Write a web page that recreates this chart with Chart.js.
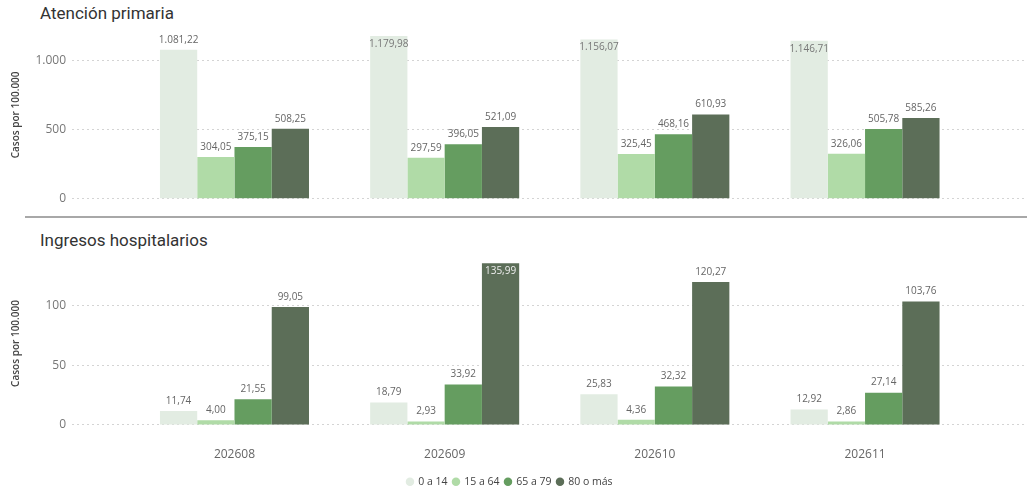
<!DOCTYPE html>
<html>
<head>
<meta charset="utf-8">
<script src="https://cdn.jsdelivr.net/npm/chart.js@4/dist/chart.umd.min.js"></script>
<style>
  html,body{margin:0;padding:0;background:#fff;width:1027px;height:493px;overflow:hidden;}
  .title{position:absolute;left:40px;font-family:"Roboto","DejaVu Sans",sans-serif;font-size:17px;color:#333;}
  #sep{position:absolute;left:25px;top:216px;width:1002px;height:2px;background:#a8a8a8;}
  #c1wrap{position:absolute;left:0;top:0;width:1027px;height:212px;}
  #c2wrap{position:absolute;left:0;top:224px;width:1027px;height:273px;}
</style>
</head>
<body>
<div class="title" style="top:3px;">Atención primaria</div>
<div id="sep"></div>
<div class="title" style="top:230px;">Ingresos hospitalarios</div>
<div id="c1wrap"><canvas id="c1"></canvas></div>
<div id="c2wrap"><canvas id="c2"></canvas></div>
<script>
// ---- data ----
const categories = ["202608", "202609", "202610", "202611"];
const seriesNames = ["0 a 14", "15 a 64", "65 a 79", "80 o más"];

const primaria_0_14  = [1081.22, 1179.98, 1156.07, 1146.71];
const primaria_15_64 = [304.05, 297.59, 325.45, 326.06];
const primaria_65_79 = [375.15, 396.05, 468.16, 505.78];
const primaria_80    = [508.25, 521.09, 610.93, 585.26];

const hosp_0_14  = [11.74, 18.79, 25.83, 12.92];
const hosp_15_64 = [4.00, 2.93, 4.36, 2.86];
const hosp_65_79 = [21.55, 33.92, 32.32, 27.14];
const hosp_80    = [99.05, 135.99, 120.27, 103.76];

const primariaTicks = [0, 500, 1000];
const hospTicks = [0, 50, 100];

// ---- styles ----
const colors = ["#e2ece2", "#b0dba7", "#659d60", "#5c6e58"];
const insideColors = ["#777", "#666", "#fff", "#eee"];

function fmt(v, dec) {
  const neg = v < 0;
  let s = Math.abs(v).toFixed(dec);
  let [ip, dp] = s.split(".");
  ip = ip.replace(/\B(?=(\d{3})+(?!\d))/g, ".");
  return (neg ? "-" : "") + ip + (dp ? "," + dp : "");
}

const labelPlugin = {
  id: "valueLabels",
  afterDatasetsDraw(chart) {
    const ctx = chart.ctx;
    const area = chart.chartArea;
    ctx.save();
    ctx.font = "10px 'Open Sans', sans-serif";
    ctx.textAlign = "center";
    chart.data.datasets.forEach((ds, di) => {
      const meta = chart.getDatasetMeta(di);
      meta.data.forEach((bar, i) => {
        const v = ds.data[i].y;
        const txt = fmt(v, 2);
        const h = 12;
        if (bar.y - 5 - h < area.top) {
          ctx.fillStyle = insideColors[di];
          ctx.textBaseline = "top";
          ctx.fillText(txt, bar.x, bar.y + 3);
        } else {
          ctx.fillStyle = "#666";
          ctx.textBaseline = "bottom";
          ctx.fillText(txt, bar.x, bar.y - 5);
        }
      });
    });
    ctx.restore();
  }
};

function makeDatasets(arrs) {
  return arrs.map((arr, k) => ({
    label: seriesNames[k],
    data: arr.map((v, i) => ({ x: i, y: v })),
    backgroundColor: colors[k],
    borderWidth: 0,
    barPercentage: 1.0,
    categoryPercentage: 0.709
  }));
}

function makeOptions(yMax, yTicks, showX, showLegend, padBottom, padTop) {
  return {
    responsive: true,
    maintainAspectRatio: false,
    animation: false,
    layout: { padding: { left: 0, right: 2, top: padTop, bottom: padBottom } },
    plugins: {
      legend: showLegend ? {
        display: true,
        position: "bottom",
        labels: {
          usePointStyle: true,
          pointStyle: "circle",
          boxWidth: 6,
          boxHeight: 6,
          padding: 0,
          color: "#444",
          font: { family: "'Open Sans', sans-serif", size: 10.5 },
          generateLabels: (chart) => {
            const items = Chart.defaults.plugins.legend.labels.generateLabels(chart);
            items.forEach(it => { it.text = it.text + "  "; });
            return items;
          }
        }
      } : { display: false },
      tooltip: { enabled: false }
    },
    scales: {
      x: {
        type: "linear",
        offset: false,
        min: -0.773,
        max: 3.761,
        display: showX,
        grid: { display: false },
        border: { display: false },
        afterBuildTicks: (s) => { s.ticks = categories.map((c, i) => ({ value: i })); },
        ticks: {
          callback: (v) => categories[v] !== undefined ? categories[v] : "",
          color: "#666",
          font: { family: "'Open Sans', sans-serif", size: 12, lineHeight: 0.8 },
          padding: 17,
          maxRotation: 0
        }
      },
      y: {
        min: 0,
        max: yMax,
        afterFit: (s) => { s.width = 72; },
        afterBuildTicks: (s) => { s.ticks = yTicks.map(v => ({ value: v })); },
        border: { display: false, dash: [2, 3] },
        grid: {
          color: "#d4d4d4",
          lineWidth: 1,
          drawTicks: false
        },
        ticks: {
          callback: (v) => fmt(v, 0),
          color: "#777",
          font: { family: "'Open Sans', sans-serif", size: 12 },
          padding: 6
        },
        title: {
          display: true,
          text: "Casos por 100.000",
          color: "#444",
          font: { family: "'Open Sans', sans-serif", size: 10, weight: "600" },
          padding: { top: 10, bottom: 0 }
        }
      }
    }
  };
}

const opt1 = makeOptions(1217, primariaTicks, false, false, 13, 31);
const opt2 = makeOptions(137, hospTicks, true, true, 0, 38);

new Chart(document.getElementById("c1"), {
  type: "bar",
  data: { datasets: makeDatasets([primaria_0_14, primaria_15_64, primaria_65_79, primaria_80]) },
  options: opt1,
  plugins: [labelPlugin]
});
new Chart(document.getElementById("c2"), {
  type: "bar",
  data: { datasets: makeDatasets([hosp_0_14, hosp_15_64, hosp_65_79, hosp_80]) },
  options: opt2,
  plugins: [labelPlugin]
});
</script>
</body>
</html>
